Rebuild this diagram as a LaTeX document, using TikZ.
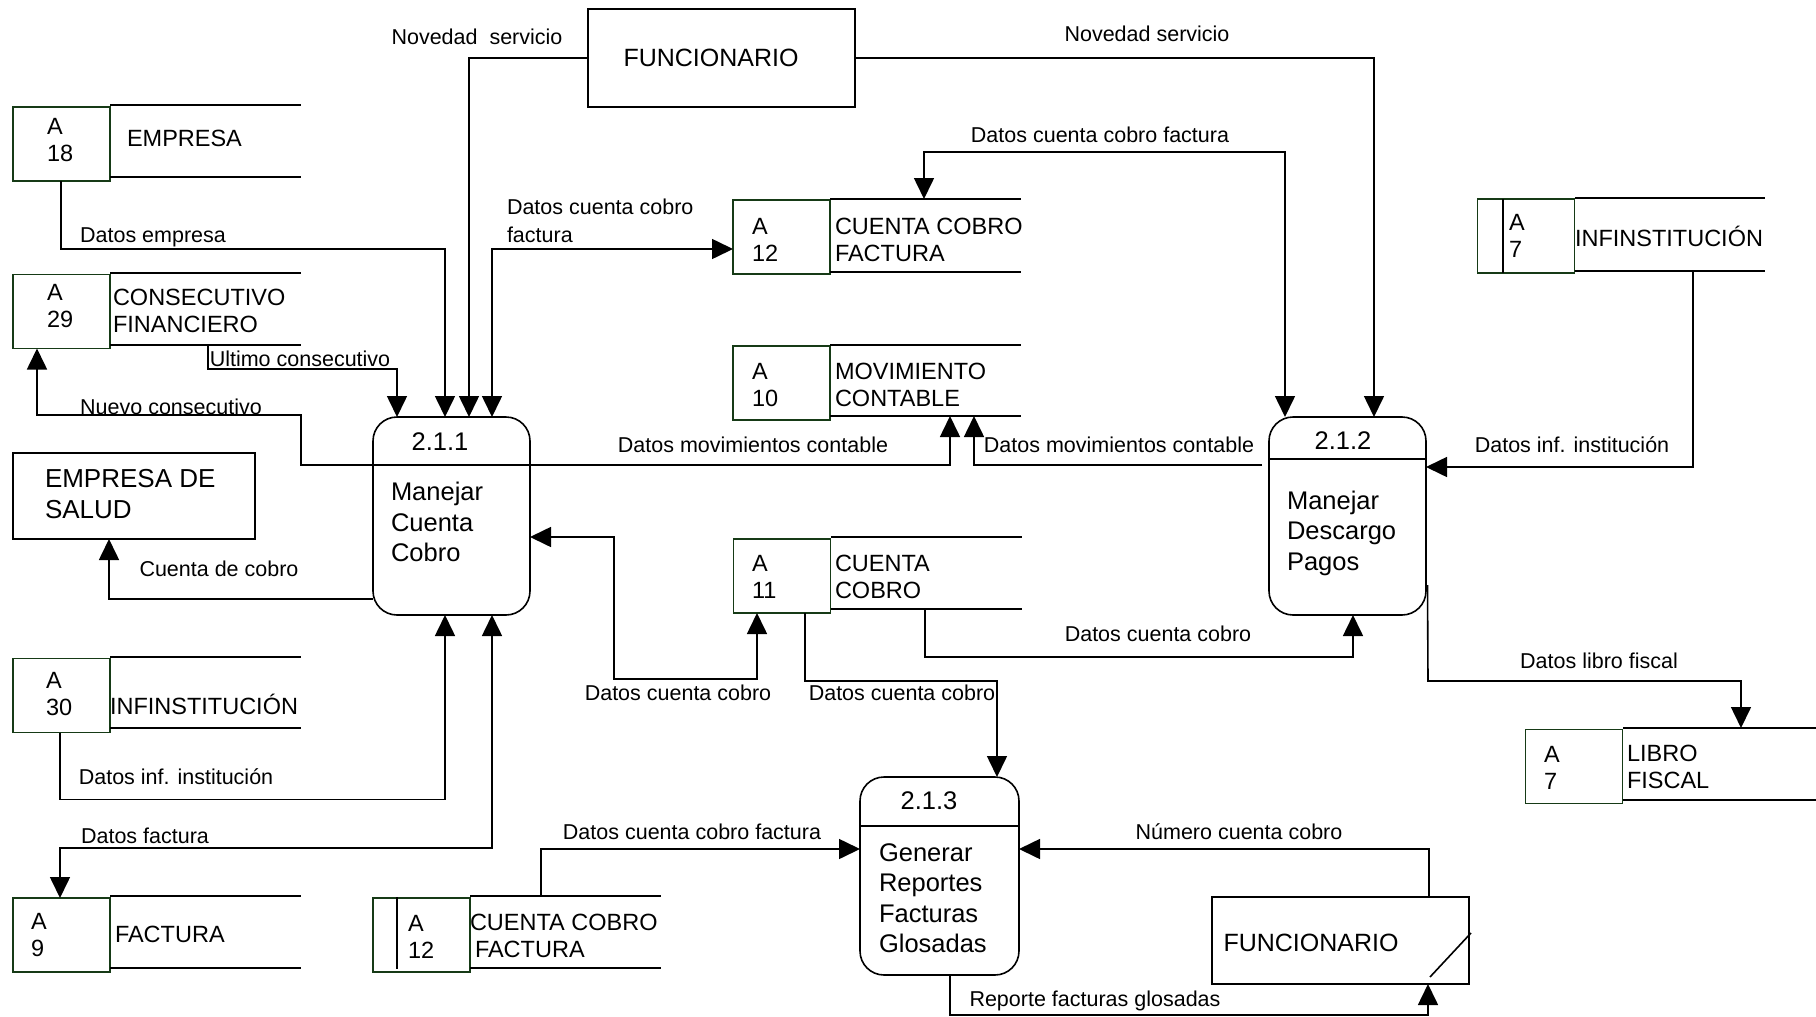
\documentclass[tikz,border=0pt]{standalone}
\usepackage{fontspec}
\setmainfont{Liberation Sans}
\usetikzlibrary{arrows.meta}
\definecolor{storeline}{RGB}{22,58,22}
\tikzset{
  every node/.style={inner sep=0pt, outer sep=0pt},
  >={Triangle[width=20pt,length=21pt]},
  conn/.style={line width=1.6pt, draw=black},
  lbl/.style={font=\fontsize{21.5}{28}\selectfont},
  idbox/.style={draw=storeline, line width=1.6pt, minimum width=97pt, minimum height=74pt},
  idtxt/.style={font=\fontsize{23.5}{27}\selectfont, align=left, anchor=west},
  stxt/.style={font=\fontsize{23.5}{27}\selectfont, align=left, anchor=west},
  proc/.style={draw, line width=1.6pt, rounded corners=24pt, minimum height=198pt},
  pnum/.style={font=\fontsize{25.5}{30}\selectfont},
  ptxt/.style={font=\fontsize{25.5}{30.5}\selectfont, align=left, anchor=west},
  ent/.style={draw, line width=1.6pt},
  etxt/.style={font=\fontsize{25}{31}\selectfont, align=left},
}
\begin{document}
\begin{tikzpicture}[x=1pt,y=-1pt]
\useasboundingbox (0,0) rectangle (1816,1017);

% ---------- processes ----------
\node[proc, minimum width=157pt] (p1) at (451.5,516) {};
\node[proc, minimum width=157pt] (p2) at (1347.5,516) {};
\node[proc, minimum width=159pt] (p3) at (939.5,876) {};
\draw[conn] ([yshift=51pt]p1.west) -- ([yshift=51pt]p1.east);
\draw[conn] ([yshift=57pt]p2.west) -- ([yshift=57pt]p2.east);
\draw[conn] ([yshift=50pt]p3.west) -- ([yshift=50pt]p3.east);
\node[pnum] (p1n) at (440,442) {2.1.1};
\node[ptxt] (p1t) at (391,522) {Manejar\\Cuenta\\Cobro};
\node[pnum] (p2n) at (1343,441) {2.1.2};
\node[ptxt] (p2t) at (1287,533) {Manejar\\Descargo\\Pagos};
\node[pnum] (p3n) at (929,801) {2.1.3};
\node[ptxt] (p3t) at (879,898) {Generar\\Reportes\\Facturas\\Glosadas};

% ---------- external entities ----------
\node[ent, minimum width=267pt, minimum height=98pt] (fun1) at (721.5,58) {};
\node[etxt] (fun1t) at (711,58) {FUNCIONARIO};
\node[ent, minimum width=242pt, minimum height=86pt] (esal) at (134,496) {};
\node[etxt, anchor=west, font=\fontsize{26}{31}\selectfont] (esalt) at (45,494.5) {EMPRESA DE\\SALUD};
\node[ent, minimum width=257pt, minimum height=87pt] (fun2) at (1340.5,940.5) {};
\node[etxt] (fun2t) at (1311,943) {FUNCIONARIO};
\draw[conn] (1430,977) -- (1471,933);

% ---------- data stores ----------
% A 18 EMPRESA
\node[idbox] (s18) at (61.5,144) {};
\draw[conn] (110,105) -- (301,105) (110,177) -- (301,177);
\node[idtxt] (s18i) at (47,140.5) {A\\18};
\node[stxt] (s18t) at (127,138) {EMPRESA};
% A 29 CONSECUTIVO FINANCIERO
\node[idbox] (s29) at (61.5,311.5) {};
\draw[conn] (110,273) -- (301,273) (110,345) -- (301,345);
\node[idtxt] (s29i) at (47,306.5) {A\\29};
\node[stxt] (s29t) at (113,311) {CONSECUTIVO\\FINANCIERO};
% A 30 INFINSTITUCION
\node[idbox] (s30) at (61.5,695.5) {};
\draw[conn] (110,657) -- (301,657) (110,728) -- (301,728);
\node[idtxt] (s30i) at (46,694.5) {A\\30};
\node[stxt] (s30t) at (110,704) {INFINSTITUCIÓN};
% A 9 FACTURA
\node[idbox] (s9) at (61.5,935) {};
\draw[conn] (110,896) -- (301,896) (110,968) -- (301,968);
\node[idtxt] (s9i) at (31,935) {A\\9};
\node[stxt] (s9t) at (115,934) {FACTURA};
% A 12 CUENTA COBRO FACTURA (upper)
\node[idbox] (s12a) at (781.5,237) {};
\draw[conn] (830,199) -- (1021,199) (830,272) -- (1021,272);
\node[idtxt] (s12ai) at (752,240) {A\\12};
\node[stxt] (s12at) at (835,240) {CUENTA COBRO\\FACTURA};
% A 10 MOVIMIENTO CONTABLE
\node[idbox] (s10) at (781.5,383) {};
\draw[conn] (830,345) -- (1021,345) (830,416) -- (1021,416);
\node[idtxt] (s10i) at (752,385) {A\\10};
\node[stxt] (s10t) at (835,384.5) {MOVIMIENTO\\CONTABLE};
% A 11 CUENTA COBRO
\node[idbox] (s11) at (782,576) {};
\draw[conn] (831,537) -- (1022,537) (831,609) -- (1022,609);
\node[idtxt] (s11i) at (752,576.5) {A\\11};
\node[stxt] (s11t) at (835,576.5) {CUENTA\\COBRO};
% A 12 CUENTA COBRO FACTURA (lower)
\node[idbox] (s12b) at (421.5,935) {};
\draw[conn] (470,896) -- (661,896) (470,968) -- (661,968);
\draw[conn] (397,897) -- (397,969);
\node[idtxt] (s12bi) at (408,937) {A\\12};
\node[stxt] (s12bt) at (470,936) {CUENTA COBRO\\\hspace{5pt}FACTURA};
% A 7 INFINSTITUCION
\node[idbox] (s7a) at (1526,236) {};
\draw[conn] (1575,198) -- (1765,198) (1575,271) -- (1765,271);
\draw[conn] (1503,199) -- (1503,273);
\node[idtxt] (s7ai) at (1509,235.5) {A\\7};
\node[stxt] (s7at) at (1575,236) {INFINSTITUCIÓN};
% A 7 LIBRO FISCAL
\node[idbox] (s7b) at (1574,766.5) {};
\draw[conn] (1623,728) -- (1816,728) (1623,800) -- (1816,800);
\node[idtxt] (s7bi) at (1544,767.5) {A\\7};
\node[stxt] (s7bt) at (1627,767) {LIBRO\\FISCAL};

% ---------- data flows ----------
\draw[conn,->] (fun1.west) -| ([xshift=96pt]p1.north west);
\node[lbl] (l1) at (477,37) {Novedad\ \ servicio};
\draw[conn,->] (fun1.east) -| ([xshift=105pt]p2.north west);
\node[lbl] (l2) at (1147,34) {Novedad servicio};

\draw[conn,->] ([xshift=-0.5pt]s18.south) -- ++(0,68) -| ([xshift=72pt]p1.north west);
\node[lbl] (l3) at (153,237) {Datos empresa};

\draw[conn,->] (208,345) -- (208,369) -| ([xshift=24pt]p1.north west);
\node[lbl] (l4) at (300,359) {Ultimo consecutivo};

\draw[conn,->] ([yshift=51pt]p1.west) -- (301,465) -- (301,415) -| ([xshift=-24.5pt]s29.south);
\node[lbl] (l5) at (171,407) {Nuevo consecutivo};

\draw[conn,->] ([yshift=-83pt]p1.west) -| ([xshift=-25pt]esal.south);
\node[lbl] (l6) at (219,569) {Cuenta de cobro};

\draw[conn,->] ([xshift=-1.5pt]s30.south) -- ++(0,67) -| ([xshift=72pt]p1.south west);
\node[lbl] (l7) at (176,777) {Datos inf. institución};

\draw[conn,<->] ([xshift=119pt]p1.south west) |- (60,848) -- ([xshift=-1.5pt]s9.north);
\node[lbl] (l8) at (145,836) {Datos factura};

\draw[conn,<->] ([xshift=119pt]p1.north west) |- ([yshift=-12pt]s12a.west);
\node[lbl, align=left, anchor=west] (l9) at (507,221) {Datos cuenta cobro\\factura};

\draw[conn,<->] ([xshift=16pt]p2.north west) |- (924,152) -- (924,199);
\node[lbl] (l10) at (1100,135) {Datos cuenta cobro factura};

\draw[conn,->] ([yshift=51pt]p1.east) -| (950,416);
\node[lbl] (l11) at (753,445) {Datos movimientos contable};
\draw[conn,->] ([xshift=-7pt,yshift=51pt]p2.west) -| (974,416);
\node[lbl] (l12) at (1119,445) {Datos movimientos contable};

\draw[conn,<->] ([yshift=-21pt]p1.east) -- (614,537) -- (614,679) -| ([xshift=-25pt]s11.south);
\node[lbl] (l13) at (678,693) {Datos cuenta cobro};

\draw[conn,->] ([xshift=23pt]s11.south) -- (805,681) -| ([xshift=137pt]p3.north west);
\node[lbl] (l14) at (902,693) {Datos cuenta cobro};

\draw[conn,->] (925,609) -- (925,657) -| ([xshift=84pt]p2.south west);
\node[lbl] (l15) at (1158,634) {Datos cuenta cobro};

\draw[conn,->] (1693,271) |- ([yshift=49pt]p2.east);
\node[lbl] (l16) at (1572,445) {Datos inf. institución};

\draw[conn,->] ([xshift=1.5pt,yshift=-69pt]p2.east) -- (1428,681) -| (1741,728);
\node[lbl] (l17) at (1599,661) {Datos libro fiscal};

\draw[conn,->] (541,896) |- ([yshift=27pt]p3.west);
\node[lbl] (l18) at (692,832) {Datos cuenta cobro factura};

\draw[conn,->] ([xshift=88.5pt]fun2.north) |- ([yshift=27pt]p3.east);
\node[lbl] (l19) at (1239,832) {Número cuenta cobro};

\draw[conn,->] ([xshift=10.5pt]p3.south) -- (950,1015) -| ([xshift=87.5pt]fun2.south);
\node[lbl] (l20) at (1095,1001) {Reporte facturas glosadas};
\end{tikzpicture}
\end{document}
